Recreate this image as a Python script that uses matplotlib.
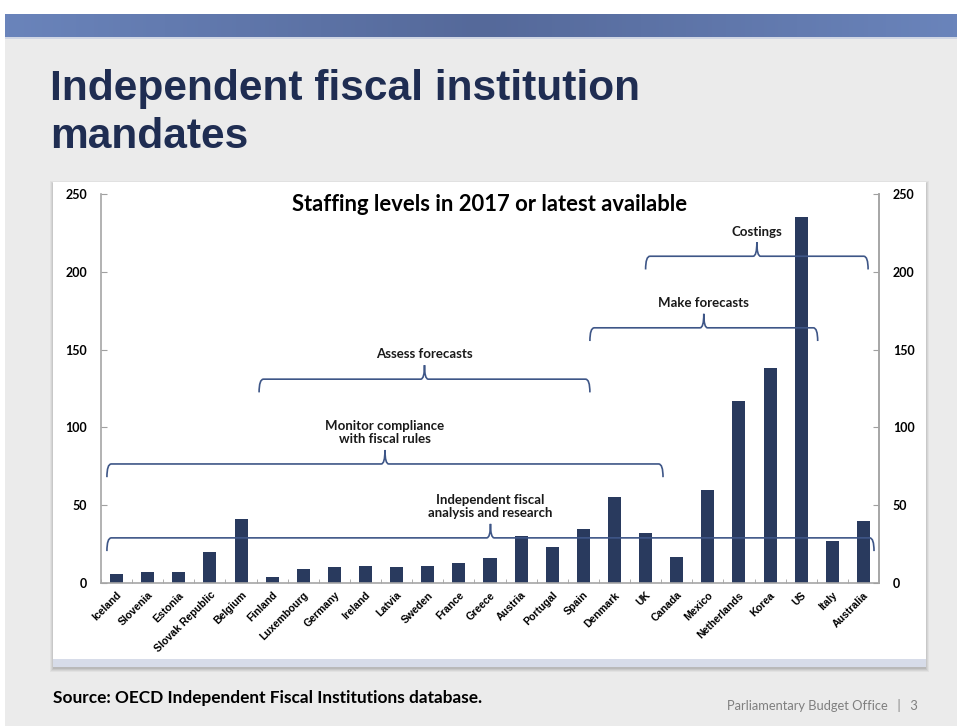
import matplotlib
matplotlib.use("Agg")
import matplotlib.pyplot as plt
from matplotlib.patches import Rectangle, PathPatch
from matplotlib.path import Path
from matplotlib.colors import LinearSegmentedColormap
import numpy as np

countries = ["Iceland", "Slovenia", "Estonia", "Slovak Republic", "Belgium", "Finland",
             "Luxembourg", "Germany", "Ireland", "Latvia", "Sweden", "France", "Greece",
             "Austria", "Portugal", "Spain", "Denmark", "UK", "Canada", "Mexico",
             "Netherlands", "Korea", "US", "Italy", "Australia"]
staff = [6, 7, 7, 20, 41, 4, 9, 10, 11, 10, 11, 13, 16,
         30, 23, 35, 55, 32, 17, 60, 117, 138, 235, 27, 40]
y_ticks = [0, 50, 100, 150, 200, 250]

# mandate braces: (start, end, level, label)
mandates_start = [-0.31, -0.31, 4.58, 15.21, 17.0]
mandates_end = [24.34, 17.56, 15.21, 22.53, 24.15]
mandates_level = [29, 76.5, 131, 164, 210]
mandates_label = ["Independent fiscal\nanalysis and research",
                  "Monitor compliance\nwith fiscal rules",
                  "Assess forecasts", "Make forecasts", "Costings"]

W, H = 957, 726
fig = plt.figure(figsize=(W / 100, H / 100), dpi=100)
fig.patch.set_facecolor("white")

def px_rect(x0, y0, x1, y1, z=-5, **kw):
    fig.patches.append(Rectangle((x0 / W, 1 - y1 / H), (x1 - x0) / W, (y1 - y0) / H,
                                 transform=fig.transFigure, zorder=z, **kw))

# slide background
px_rect(5, 14, W, H, z=-10, facecolor="#ebebeb", edgecolor="none")
# top band gradient
grad = np.abs(np.linspace(-1, 1, 256))
band_ax = fig.add_axes([5 / W, 1 - 37 / H, (W - 5) / W, 23 / H])
band_ax.set_zorder(1)
cm = LinearSegmentedColormap.from_list("b", ["#55699a", "#6a84bb"])
band_ax.imshow(grad[None, :], aspect="auto", cmap=cm, extent=[0, 1, 0, 1])
band_ax.axis("off")
px_rect(5, 37, W, 39, z=-9, facecolor="#d0d6e4", edgecolor="none")

# panel shadow + panel
for i, a in enumerate([0.04, 0.05, 0.06, 0.07]):
    px_rect(53 - 3 + i, 182 - 1 + i, 926 + 3 - i, 672 - i, z=-8, facecolor="black",
            alpha=a, edgecolor="none")
px_rect(53, 182, 926, 667, z=-7, facecolor="#d7dce9", edgecolor="none")
px_rect(53, 182, 926, 659, z=-6, facecolor="white", edgecolor="none")

# slide title
fig.text(50 / W, 1 - 148 / H, "Independent fiscal institution\nmandates",
         fontsize=30.6, fontweight="bold", family="Liberation Sans", color="#1f2d52",
         va="baseline", ha="left", linespacing=1.25)

# main axes
ax = fig.add_axes([101 / W, 1 - 583 / H, (879 - 101) / W, (583 - 194) / H])
ax.set_zorder(5)
ax.set_facecolor("none")
x = np.arange(len(countries))
ax.bar(x, staff, width=0.42, color="#293a5e", zorder=2)
ax.set_xlim(-0.5, len(countries) - 0.5)
ax.set_ylim(0, 250)
ax.set_yticks(y_ticks)
ax.set_yticklabels([str(v) for v in y_ticks], fontsize=9, fontweight="bold",
                   family="Lato")
ax.tick_params(axis="y", direction="in", length=4, color="#a0a0a0", pad=10)
ax.spines["top"].set_visible(False)
for s in ["left", "right", "bottom"]:
    ax.spines[s].set_color("#a6a6a6")
    ax.spines[s].set_linewidth(1.2)
ax.set_xticks(x)
ax.set_xticklabels(countries, rotation=45, ha="right", rotation_mode="anchor",
                   fontsize=7.6, fontweight="bold", family="Liberation Sans")
ax.tick_params(axis="x", length=0, pad=5)
ax.set_xticks(np.arange(-0.5, len(countries)), minor=True)
ax.tick_params(axis="x", which="minor", direction="in", length=3, color="#a0a0a0")

ax2 = ax.twinx()
ax2.set_zorder(6)
ax2.set_ylim(0, 250)
ax2.set_yticks(y_ticks)
ax2.set_yticklabels([str(v) for v in y_ticks], fontsize=9, fontweight="bold",
                    family="Lato")
ax2.tick_params(axis="y", direction="in", length=4, color="#a0a0a0", pad=10)
for s in ["top", "left", "bottom"]:
    ax2.spines[s].set_visible(False)
ax2.spines["right"].set_color("#a6a6a6")
ax2.spines["right"].set_linewidth(1.2)

ax.set_title("Staffing levels in 2017 or latest available", fontsize=15.8,
             fontweight="bold", family="Lato", y=1.0, pad=0, va="top")

# braces
brace_col = "#3e5687"
def brace(x0, x1, y, label):
    xm = (x0 + x1) / 2
    d, r, h, r2 = 8.5, 0.14, 9, 0.12
    verts = [(x0, y - d), (x0, y), (x0 + r, y),
             (xm - r2, y), (xm, y), (xm, y + h),
             (xm, y), (xm + r2, y),
             (x1 - r, y), (x1, y), (x1, y - d)]
    codes = [Path.MOVETO, Path.CURVE3, Path.CURVE3,
             Path.LINETO, Path.CURVE3, Path.CURVE3,
             Path.CURVE3, Path.CURVE3,
             Path.LINETO, Path.CURVE3, Path.CURVE3]
    ax.add_patch(PathPatch(Path(verts, codes), facecolor="none", edgecolor=brace_col,
                           lw=1.2, zorder=3, clip_on=False))
    ax.text(xm, y + h + 3, label, ha="center", va="bottom", fontsize=9.5,
            fontweight="bold", family="Lato", color="#1a1a1a", linespacing=1.15,
            zorder=4)

for s, e, lv, lb in zip(mandates_start, mandates_end, mandates_level, mandates_label):
    brace(s, e, lv, lb)

fig.text(53 / W, 1 - 703 / H, "Source: OECD Independent Fiscal Institutions database.",
         fontsize=12.4, fontweight="bold", family="Lato", color="black", va="baseline")
fig.text(918 / W, 1 - 710 / H, "Parliamentary Budget Office   |   3",
         fontsize=9.3, family="Lato", color="#7f7f7f", ha="right", va="baseline")

fig.savefig("out.png", dpi=100)
